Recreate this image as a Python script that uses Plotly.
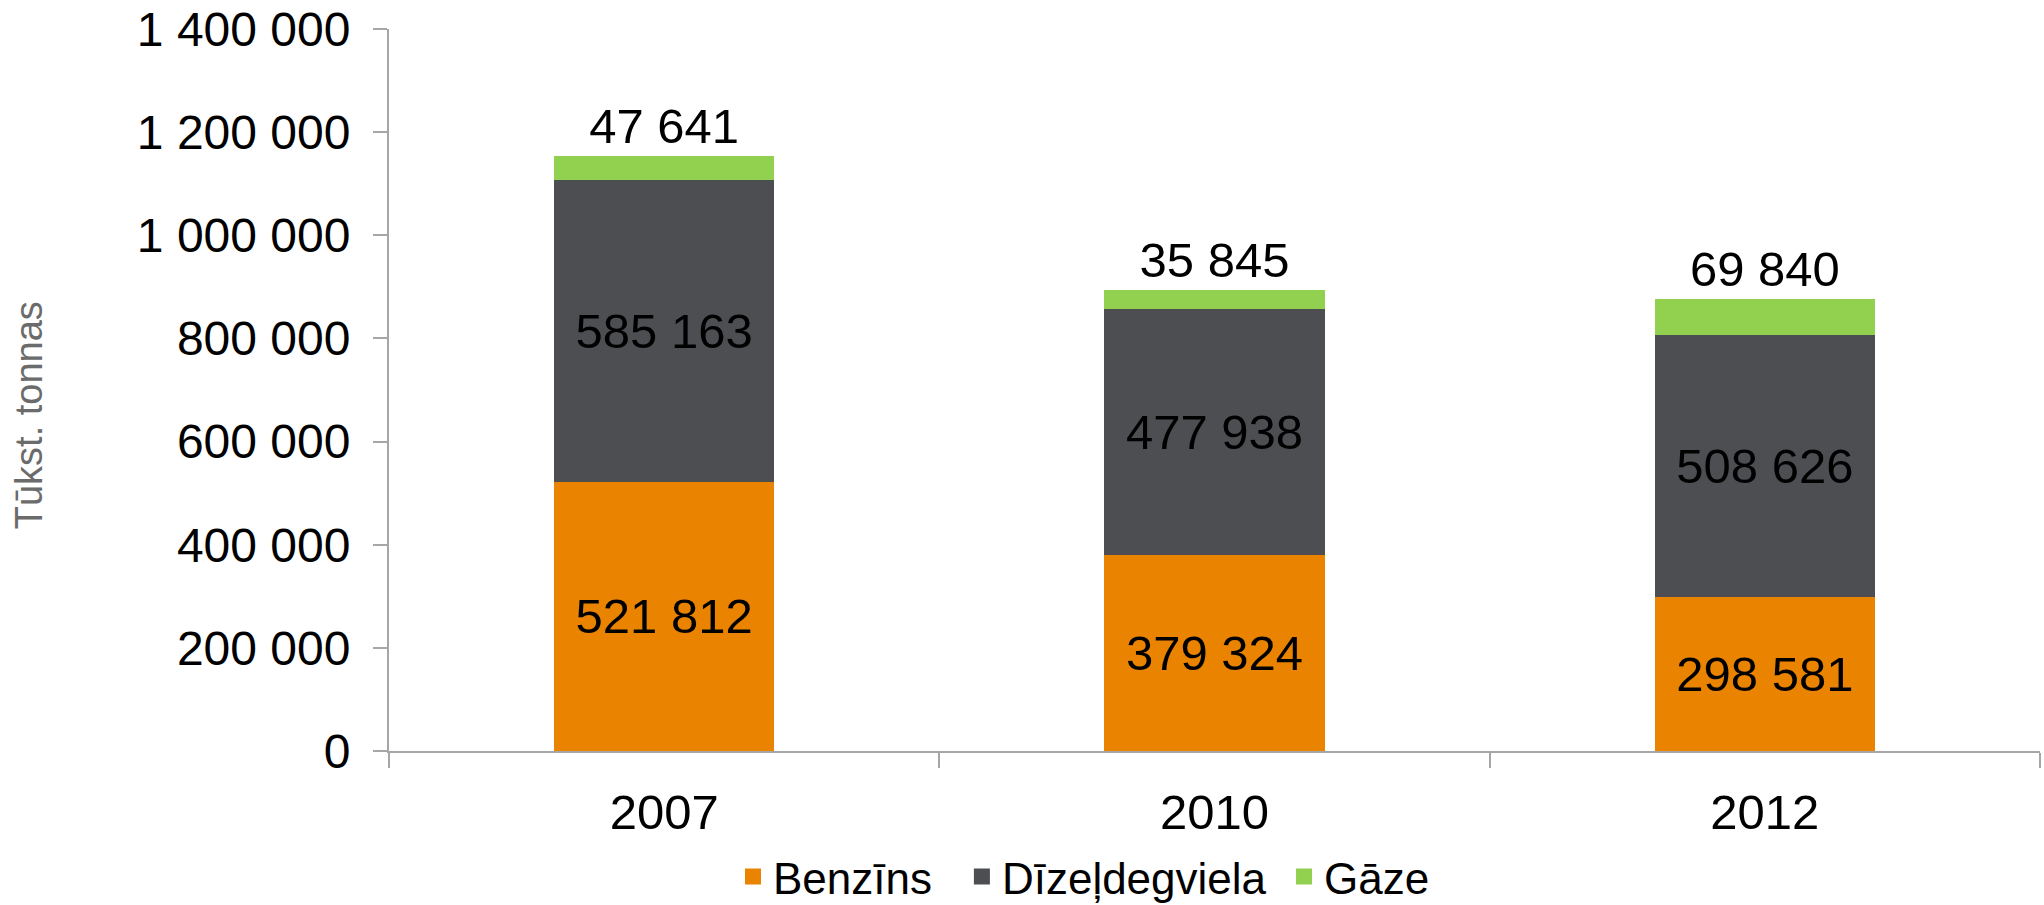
import plotly.graph_objects as go

years = ["2007", "2010", "2012"]
benzins = [521812, 379324, 298581]
dizelis = [585163, 477938, 508626]
gaze = [47641, 35845, 69840]
series_names = ["Benzīns", "Dīzeļdegviela", "Gāze"]
colors = ["#E98300", "#4D4E52", "#92D050"]
y_ticks = [0, 200000, 400000, 600000, 800000, 1000000, 1200000, 1400000]
y_title = "Tūkst. tonnas"


def fmt(v):
    return f"{v:,}".replace(",", " ")


FONT = "Liberation Sans, Arial, sans-serif"
fig = go.Figure()

data = [benzins, dizelis, gaze]
for i, (name, vals, col) in enumerate(zip(series_names, data, colors)):
    fig.add_trace(go.Bar(
        x=years, y=vals, name=name,
        marker=dict(color=col, line=dict(width=0)),
        text=[fmt(v) for v in vals],
        textposition="outside" if i == 2 else "inside",
        insidetextanchor="middle",
        textfont=dict(family=FONT, size=49, color="black"),
        cliponaxis=False,
        showlegend=False,
        hoverinfo="skip",
    ))

legend_names = ["legend", "legend2", "legend3"]
for name, col, lg in zip(series_names, colors, legend_names):
    fig.add_trace(go.Scatter(
        x=[None], y=[None], mode="markers", name=name,
        marker=dict(symbol="square", size=20, color=col),
        legend=lg, showlegend=True,
    ))

leg_common = dict(orientation="h", yanchor="middle", y=0.031, yref="container",
                  xanchor="left", xref="container",
                  font=dict(family=FONT, size=44, color="black"),
                  bgcolor="rgba(0,0,0,0)", borderwidth=0)

fig.update_layout(
    width=2044, height=905,
    margin=dict(l=389, r=4, t=29, b=154, autoexpand=False),
    paper_bgcolor="white", plot_bgcolor="white",
    barmode="stack", bargap=0.6,
    separators=", ",
    font=dict(family=FONT, size=46, color="black"),
    legend=dict(x=0.3586, **leg_common),
    legend2=dict(x=0.4706, **leg_common),
    legend3=dict(x=0.6282, **leg_common),
    xaxis=dict(
        type="category", automargin=False,
        showline=True, linecolor="#A6A6A6", linewidth=2,
        ticks="outside", tickson="boundaries", ticklen=15, tickcolor="#A6A6A6", tickwidth=2,
        tickfont=dict(family=FONT, size=49, color="black"),
        ticklabelstandoff=17,
        showgrid=False, zeroline=False,
    ),
    yaxis=dict(
        range=[0, 1400000], automargin=False,
        tickvals=y_ticks,
        ticktext=[fmt(v) for v in y_ticks],
        showline=True, linecolor="#A6A6A6", linewidth=2,
        ticks="outside", ticklen=14, tickcolor="#A6A6A6", tickwidth=2,
        tickfont=dict(family=FONT, size=48, color="black"),
        ticklabelstandoff=13,
        showgrid=False, zeroline=False,
    ),
    annotations=[dict(
        text=y_title, textangle=-90, showarrow=False,
        xref="paper", yref="paper", x=0, y=0.465,
        xanchor="center", yanchor="middle", xshift=-360,
        font=dict(family=FONT, size=38, color="#6B6B6B"),
    )],
)

fig.write_html("out.html", config={"displayModeBar": False},
               post_script="document.body.style.margin='0';document.body.style.overflow='hidden';")
